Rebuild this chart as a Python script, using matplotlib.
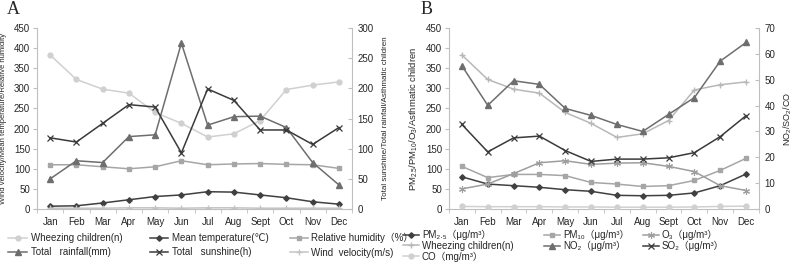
import matplotlib
matplotlib.use("Agg")
import matplotlib.pyplot as plt
import numpy as np

plt.rcParams['font.family'] = ['Liberation Sans', 'DejaVu Sans', 'Noto Sans CJK SC']
plt.rcParams['mathtext.fontset'] = 'custom'
plt.rcParams['mathtext.rm'] = 'Liberation Sans'
plt.rcParams['mathtext.it'] = 'Liberation Sans'

months = ["Jan", "Feb", "Mar", "Apr", "May", "Jun", "Jul", "Aug", "Sept", "Oct", "Nov", "Dec"]

# panel A - left axis
wheezing = [383, 322, 298, 288, 240, 213, 179, 187, 220, 297, 308, 316]
mean_temp = [7, 8, 15, 23, 31, 35, 43, 42, 35, 28, 18, 12]
rel_humidity = [110, 110, 105, 100, 105, 120, 110, 112, 113, 111, 110, 101]
wind_velocity = [2, 2, 2, 3, 3, 2, 3, 3, 2, 2, 2, 2]
# panel A - right axis
rainfall = [50, 80, 77, 120, 123, 275, 139, 153, 154, 135, 77, 40]
sunshine = [118, 111, 142, 173, 169, 93, 199, 180, 131, 131, 107, 135]

# panel B - left axis
pm25 = [80, 62, 58, 54, 48, 44, 34, 33, 34, 40, 58, 87]
pm10 = [106, 78, 86, 86, 83, 66, 62, 56, 58, 71, 96, 126]
o3 = [50, 62, 88, 115, 120, 111, 114, 115, 106, 93, 58, 46]
wheezing_b = [383, 322, 298, 288, 240, 213, 178, 187, 220, 296, 309, 316]
# panel B - right axis
no2 = [55.4, 40.1, 49.6, 48.2, 38.9, 36.2, 32.7, 30.0, 36.6, 43.1, 57.2, 64.4]
so2 = [32.7, 22.1, 27.5, 28.2, 22.6, 18.4, 19.3, 19.3, 19.8, 21.8, 28.0, 36.1]
co = [1.0, 0.9, 0.9, 0.9, 0.8, 0.8, 0.7, 0.7, 0.7, 0.8, 1.0, 1.1]

SPINE = '#bfbfbf'
TXT = '#262626'
x = np.arange(len(months))

fig = plt.figure(figsize=(7.93, 2.73), dpi=100)
axA = fig.add_axes([0.0467, 0.2344, 0.3972, 0.663])
axB = fig.add_axes([0.5662, 0.2344, 0.3909, 0.663])


def style(ax, ax2, ymax, ystep, ymax2, ystep2):
    ax.set_xlim(-0.5, len(months) - 0.5)
    ax.set_ylim(0, ymax)
    ax2.set_ylim(0, ymax2)
    ax.set_yticks(np.arange(0, ymax + 1, ystep))
    ax2.set_yticks(np.arange(0, ymax2 + 1, ystep2))
    ax.set_xticks(x)
    ax.set_xticklabels(months)
    ax.set_xticks(np.arange(-0.5, len(months)), minor=True)
    ax.tick_params(axis='x', which='major', length=0, pad=6, labelsize=7, colors=TXT)
    ax.tick_params(axis='x', which='minor', length=3, color=SPINE, direction='out')
    ax.tick_params(axis='y', length=3, color=SPINE, pad=2, labelsize=7, labelcolor=TXT)
    ax2.tick_params(axis='y', length=3, color=SPINE, direction='in', pad=4, labelsize=7, labelcolor=TXT)
    for a in (ax, ax2):
        a.spines['top'].set_visible(False)
        for s in ('left', 'right', 'bottom'):
            a.spines[s].set_color(SPINE)
            a.spines[s].set_linewidth(0.8)
    ax.spines['right'].set_visible(False)
    ax2.spines['left'].set_visible(False)
    ax2.spines['bottom'].set_visible(False)


def leg(handles, xpx, ytop, fs, spacing, hl):
    fig.legend(handles=handles, loc='upper left', bbox_to_anchor=(xpx / 793, 1 - ytop / 273),
               frameon=False, fontsize=fs, borderpad=0, borderaxespad=0, handlelength=hl,
               handletextpad=0.35, labelspacing=spacing, labelcolor=TXT)


# ---------- panel A ----------
axA2 = axA.twinx()
kw = dict(lw=1.1)
hA_wh, = axA.plot(x, wheezing, color='#d0d0d0', marker='o', ms=3.5, label="Wheezing children(n)", **kw)
hA_t, = axA.plot(x, mean_temp, color='#404040', marker='D', ms=2.8, label="Mean temperature(℃)", **kw)
hA_rh, = axA.plot(x, rel_humidity, color='#a6a6a6', marker='s', ms=3.2, label="Relative humidity（%）", **kw)
hA_w, = axA.plot(x, wind_velocity, color='#c4c4c4', marker='+', ms=5, mew=1, label="Wind  velocity(m/s)", **kw)
hA_r, = axA2.plot(x, rainfall, color='#6e6e6e', marker='^', ms=3.8, label="Total   rainfall(mm)", **kw)
hA_s, = axA2.plot(x, sunshine, color='#3a3a3a', marker='x', ms=4, mew=0.9, label="Total   sunshine(h)", **kw)
style(axA, axA2, 450, 50, 300, 50)
axA.set_ylabel("Wind velocity/Mean temperature/Relative humidity", fontsize=5.5, color=TXT)
axA.yaxis.set_label_coords(-0.095, 0.5)
axA2.set_ylabel("Total sunshine/Total rainfall/Asthmatic children", fontsize=5.8, color=TXT)
axA2.yaxis.set_label_coords(1.095, 0.5)

leg([hA_wh, hA_r], 8, 233, 7, 0.45, 2.0)
leg([hA_t, hA_s], 150, 233, 7, 0.45, 1.9)
leg([hA_rh, hA_w], 290, 233, 7, 0.45, 1.8)

# ---------- panel B ----------
axB2 = axB.twinx()
hB_25, = axB.plot(x, pm25, color='#404040', marker='D', ms=2.8, label="PM₂.₅（μg/m³）", **kw)
hB_10, = axB.plot(x, pm10, color='#a6a6a6', marker='s', ms=3.2, label="PM₁₀（μg/m³）", **kw)
hB_o3, = axB.plot(x, o3, color='#9e9e9e', marker=(6, 2, 0), ms=5, mew=0.8, label="O₃（μg/m³）", **kw)
hB_wh, = axB.plot(x, wheezing_b, color='#b8b8b8', marker='+', ms=5, mew=1, label="Wheezing children(n)", **kw)
hB_no2, = axB2.plot(x, no2, color='#6e6e6e', marker='^', ms=3.8, label="NO₂（μg/m³）", **kw)
hB_so2, = axB2.plot(x, so2, color='#3a3a3a', marker='x', ms=4, mew=0.9, label="SO₂（μg/m³）", **kw)
hB_co, = axB2.plot(x, co, color='#d0d0d0', marker='o', ms=3.5, label="CO（mg/m³）", **kw)
style(axB, axB2, 450, 50, 70, 10)
axB.set_ylabel(r"PM$_{2.5}$/PM$_{10}$/O$_{3}$/Asthmatic children", fontsize=6.8, color=TXT)
axB.yaxis.set_label_coords(-0.094, 0.5)
axB2.set_ylabel(r"NO$_{2}$/SO$_{2}$/CO", fontsize=6.5, color=TXT)
axB2.yaxis.set_label_coords(1.072, 0.5)

leg([hB_25, hB_wh, hB_co], 403, 230, 7, 0.05, 1.6)
leg([hB_10, hB_no2], 544, 230, 7, 0.05, 1.6)
leg([hB_o3, hB_so2], 643, 230, 7, 0.05, 1.6)

fig.text(7 / 793, 1 - 1 / 273, "A", family='Liberation Serif', fontsize=13, va='top', color=TXT)
fig.text(421 / 793, 1 - 1 / 273, "B", family='Liberation Serif', fontsize=13, va='top', color=TXT)

fig.savefig("out.png", dpi=100)
